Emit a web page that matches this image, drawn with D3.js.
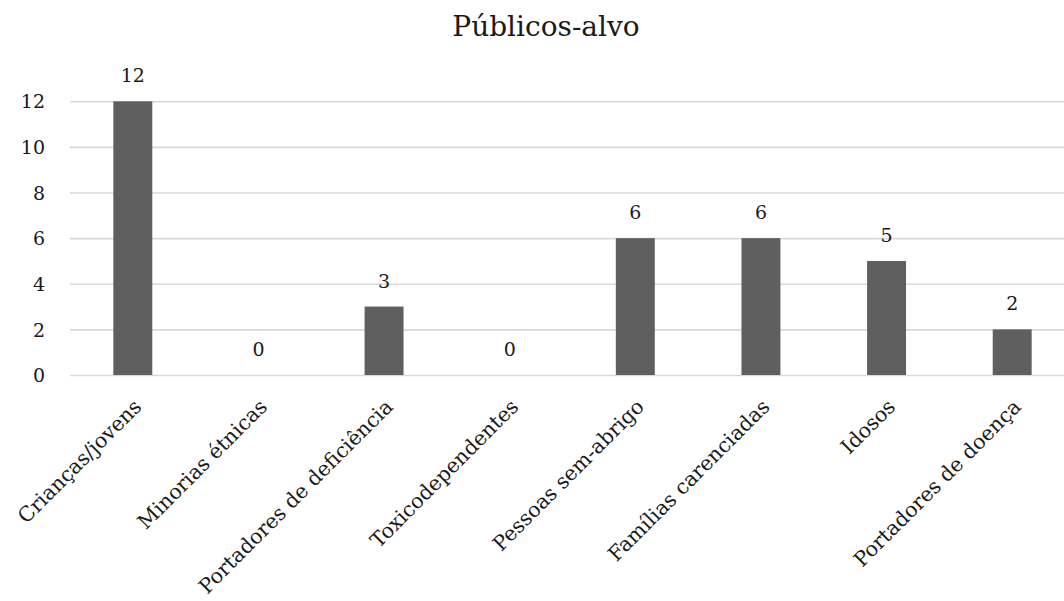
<!DOCTYPE html>
<html><head><meta charset="utf-8">
<script src="https://cdn.jsdelivr.net/npm/d3@7"></script>
<style>body{margin:0;background:#fff}svg{display:block}</style>
</head><body>
<script>
const title = "Públicos-alvo";
const categories = ["Crianças/jovens","Minorias étnicas","Portadores de deficiência","Toxicodependentes","Pessoas sem-abrigo","Famílias carenciadas","Idosos","Portadores de doença"];
const values = [12,0,3,0,6,6,5,2];
const yTicks = [0,2,4,6,8,10,12];

const W = 1064, H = 601;
const font = "'DejaVu Serif', serif";
const svg = d3.select("body").append("svg").attr("width", W).attr("height", H);

const x = d3.scaleBand().domain(categories).range([70, 1075]).paddingInner(0.69).paddingOuter(0.345);
const y = d3.scaleLinear().domain([0, 12]).range([375, 101.3]);

svg.append("text").attr("x", 546).attr("y", 36).attr("text-anchor", "middle")
  .style("font-family", font).style("font-size", "28px").attr("fill", "#1a1a1a").text(title);

// gridlines
const yAxis = d3.axisLeft(y).tickValues(yTicks).tickSize(-(1075 - 70)).tickPadding(10);
const gy = svg.append("g").attr("transform", "translate(70,0)").call(yAxis);
gy.select(".domain").remove();
gy.selectAll(".tick line").attr("stroke", "#d9d9d9").attr("stroke-width", 1.6);
gy.selectAll(".tick text").style("font-family", font).style("font-size", "19px").attr("fill", "#1a1a1a").attr("x", -25).attr("dy", "0.35em");

// bars
svg.append("g").selectAll("rect").data(values).join("rect")
  .attr("x", (d, i) => x(categories[i]))
  .attr("width", x.bandwidth())
  .attr("y", d => y(d))
  .attr("height", d => y(0) - y(d))
  .attr("fill", "#5f5f5f");

// value labels
svg.append("g").selectAll("text").data(values).join("text")
  .attr("x", (d, i) => x(categories[i]) + x.bandwidth() / 2)
  .attr("y", d => y(d) - 19)
  .attr("text-anchor", "middle")
  .style("font-family", font).style("font-size", "19px").attr("fill", "#1a1a1a")
  .text(d => d);

// category labels
const xAxis = d3.axisBottom(x).tickSize(0).tickPadding(0);
const gx = svg.append("g").attr("transform", "translate(0,375)").call(xAxis);
gx.select(".domain").remove();
gx.selectAll(".tick text")
  .style("font-family", font).style("font-size", "20.5px").attr("fill", "#1a1a1a")
  .attr("text-anchor", "end").attr("dy", null).attr("y", null)
  .attr("transform", "translate(10,33) rotate(-45)");
</script>
</body></html>
